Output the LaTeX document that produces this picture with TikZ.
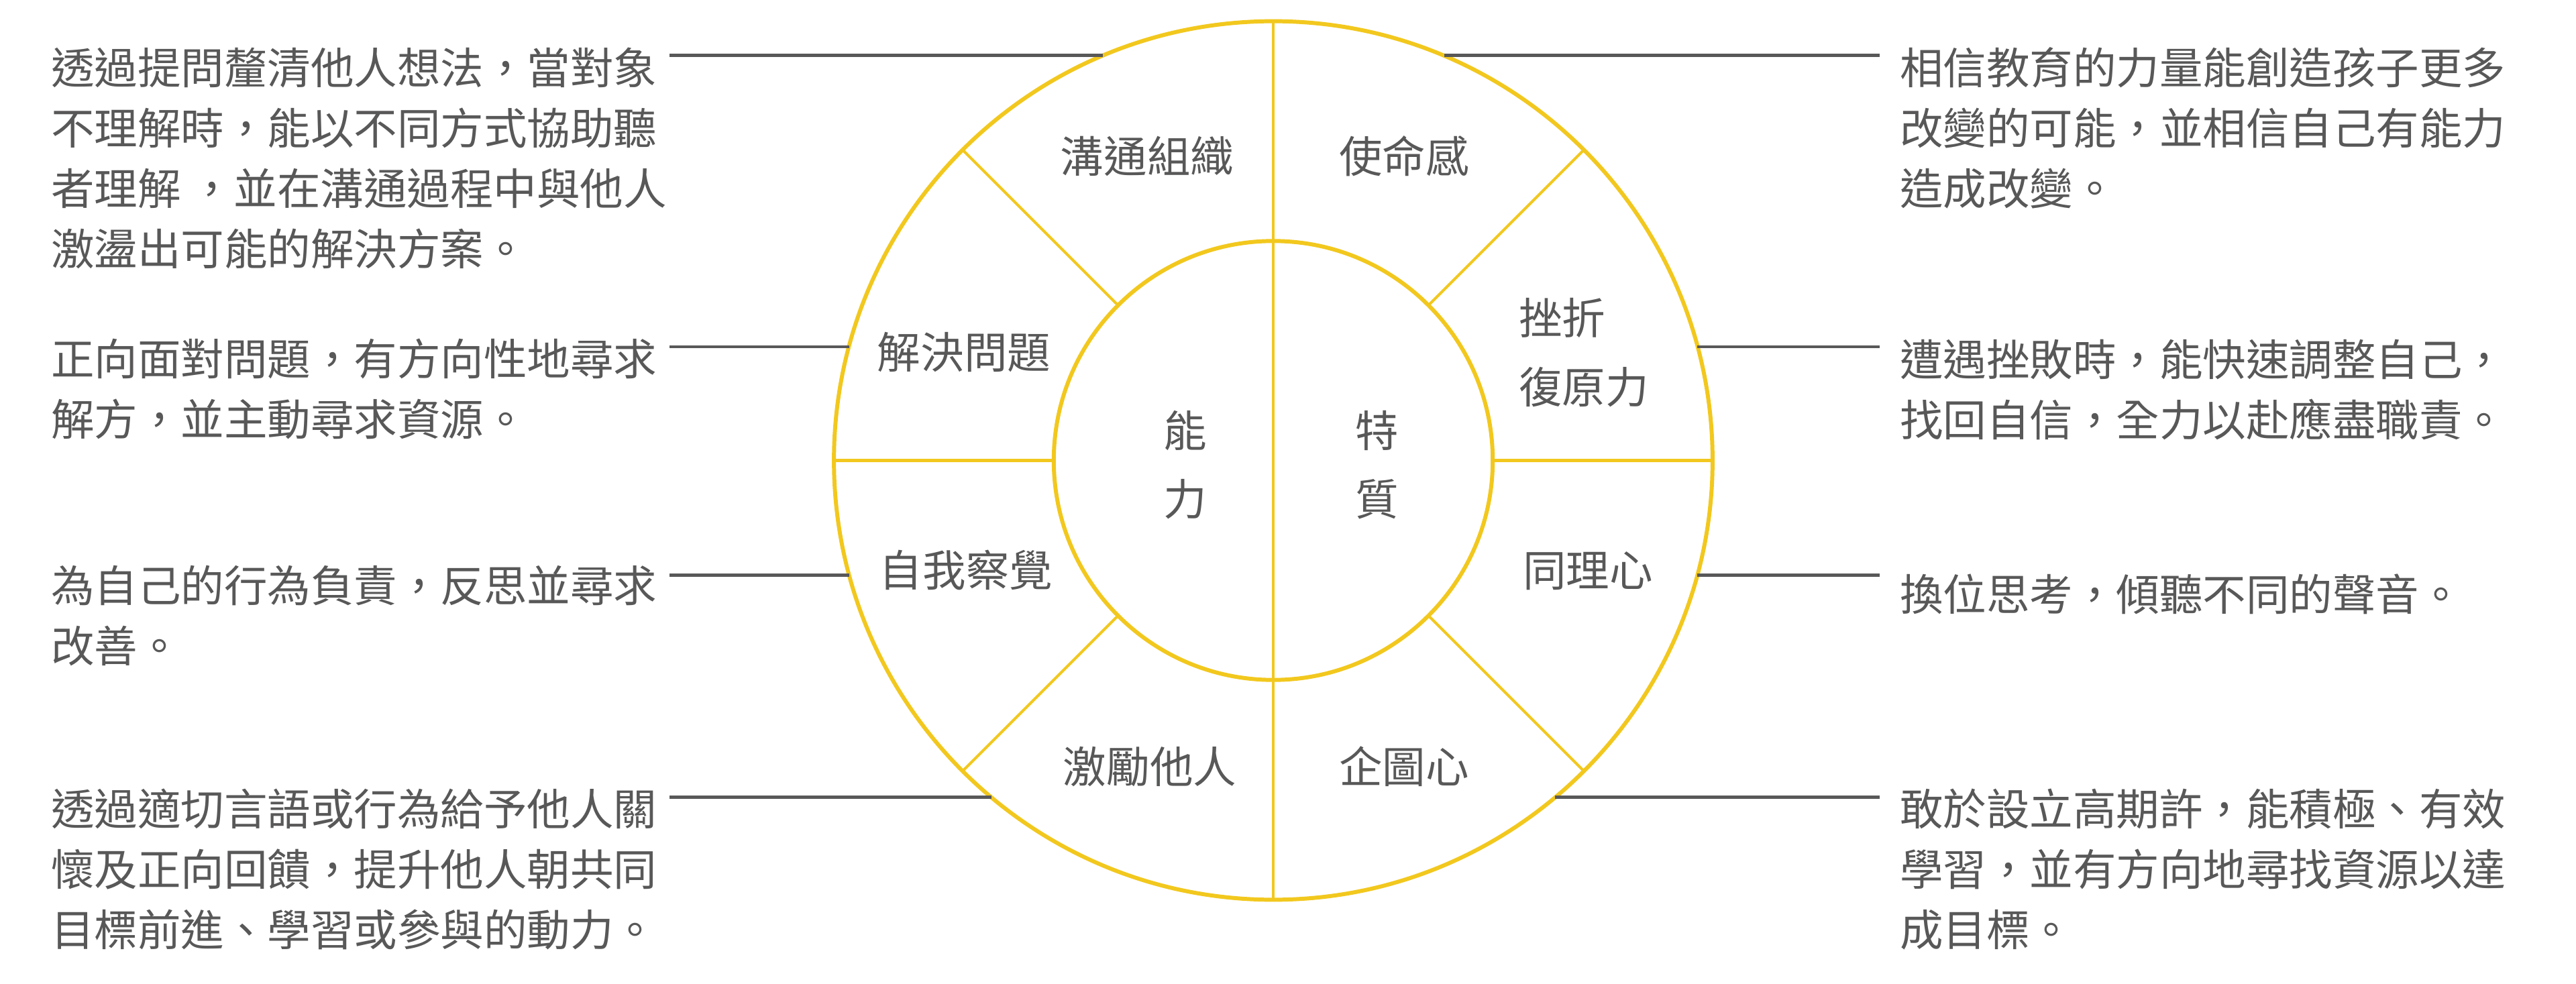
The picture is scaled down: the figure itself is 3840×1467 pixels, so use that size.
\documentclass[tikz,border=0pt]{standalone}
\usepackage{fontspec}
\setmainfont{Noto Sans CJK TC}
\usetikzlibrary{calc}
\definecolor{ylw}{RGB}{242,200,30}
\definecolor{txtgray}{RGB}{89,88,88}
\definecolor{linegray}{RGB}{88,88,88}
\begin{document}
\begin{tikzpicture}[x=0.01cm,y=-0.01cm,
  desc/.style={anchor=base west, inner sep=0pt, outer sep=0pt, text=txtgray, font=\fontsize{18.35pt}{22pt}\selectfont},
  lbl/.style={anchor=base, inner sep=0pt, outer sep=0pt, text=txtgray, font=\fontsize{18.35pt}{22pt}\selectfont},
  lblw/.style={anchor=base west, inner sep=0pt, outer sep=0pt, text=txtgray, font=\fontsize{18.35pt}{22pt}\selectfont},
  ring/.style={circle, draw=ylw, line width=1.7pt, inner sep=0pt, outer sep=0pt},
  spoke/.style={draw=ylw, line width=1.14pt},
  spokeh/.style={draw=ylw, line width=1.56pt},
  conn/.style={draw=linegray, line width=1.42pt}]
\useasboundingbox (0,0) rectangle (3840,1467);
\fill[white] (0,0) rectangle (3840,1467);

% rings (named nodes)
\node[ring, minimum size=13.09cm] (outer) at (1898,686.5) {};
\node[ring, minimum size=6.54cm] (inner) at (1898,686.5) {};

% connector free ends
\coordinate (l1) at (998,83);
\coordinate (l2) at (998,517);
\coordinate (l3) at (998,857);
\coordinate (l4) at (998,1188);
\coordinate (r1) at (2802,83);
\coordinate (r2) at (2802,517);
\coordinate (r3) at (2802,857);
\coordinate (r4) at (2802,1188);
% points on the outer ring
\coordinate (ol1) at (1643.5,83);
\coordinate (ol2) at (1265.7,517);
\coordinate (ol3) at (1266.2,857);
\coordinate (ol4) at (1478,1188);
\coordinate (or1) at (2152.5,83);
\coordinate (or2) at (2530.3,517);
\coordinate (or3) at (2529.8,857);
\coordinate (or4) at (2318,1188);

% connectors
\draw[conn] (l1) -- (ol1);
\draw[conn] (l2) -- (ol2);
\draw[conn] (l3) -- (ol3);
\draw[conn] (l4) -- (ol4);
\draw[conn] (or1) -- (r1);
\draw[conn] (or2) -- (r2);
\draw[conn] (or3) -- (r3);
\draw[conn] (or4) -- (r4);

% spokes
\draw[spoke] ($(outer.center)+(90:6.545cm)$) -- ($(outer.center)+(270:6.545cm)$);
\draw[spokeh] ($(outer.center)+(180:6.545cm)$) -- ($(inner.center)+(180:3.27cm)$);
\draw[spokeh] ($(inner.center)+(0:3.27cm)$) -- ($(outer.center)+(0:6.545cm)$);
\foreach \a in {45,135,225,315}
  \draw[spoke] ($(inner.center)+(\a:3.27cm)$) -- ($(outer.center)+(\a:6.545cm)$);

% segment labels
\node[lbl] (goutong) at (1710,257.5) {溝通組織};
\node[lbl] (shiming) at (2093,257.5) {使命感};
\node[lbl] (jiejue) at (1437,549.5) {解決問題};
\node[lblw] (cuozhe) at (2264,498.5) {挫折};
\node[lblw] (fuyuan) at (2264,601.5) {復原力};
\node[lbl] (neng) at (1767,666.5) {能};
\node[lbl] (li) at (1767,768.5) {力};
\node[lbl] (te) at (2053,666.5) {特};
\node[lbl] (zhi) at (2053,768.5) {質};
\node[lbl] (ziwo) at (1440,874.5) {自我察覺};
\node[lbl] (tongli) at (2367,874.5) {同理心};
\node[lbl] (jili) at (1714,1167.5) {激勵他人};
\node[lbl] (qitu) at (2093,1167.5) {企圖心};

% left descriptions
\node[desc] (a1) at (76,125.5) {透過提問釐清他人想法，當對象};
\node[desc] (a2) at (76,215.5) {不理解時，能以不同方式協助聽};
\node[desc] (a3) at (76,305.5) {者理解 ，並在溝通過程中與他人};
\node[desc] (a4) at (76,395.5) {激盪出可能的解決方案。};

\node[desc] (b1) at (76,559.5) {正向面對問題，有方向性地尋求};
\node[desc] (b2) at (76,649.5) {解方，並主動尋求資源。};

\node[desc] (c1) at (76,897.5) {為自己的行為負責，反思並尋求};
\node[desc] (c2) at (76,987.5) {改善。};

\node[desc] (d1) at (76,1230.5) {透過適切言語或行為給予他人關};
\node[desc] (d2) at (76,1320.5) {懷及正向回饋，提升他人朝共同};
\node[desc] (d3) at (76,1410.5) {目標前進、學習或參與的動力。};

% right descriptions
\node[desc] (e1) at (2832,125.5) {相信教育的力量能創造孩子更多};
\node[desc] (e2) at (2832,215.5) {改變的可能，並相信自己有能力};
\node[desc] (e3) at (2832,305.5) {造成改變。};

\node[desc] (f1) at (2832,560.5) {遭遇挫敗時，能快速調整自己，};
\node[desc] (f2) at (2832,650.5) {找回自信，全力以赴應盡職責。};

\node[desc] (g1) at (2832,910.5) {換位思考，傾聽不同的聲音。};

\node[desc] (h1) at (2832,1230.5) {敢於設立高期許，能積極、有效};
\node[desc] (h2) at (2832,1320.5) {學習，並有方向地尋找資源以達};
\node[desc] (h3) at (2832,1410.5) {成目標。};
\end{tikzpicture}
\end{document}
